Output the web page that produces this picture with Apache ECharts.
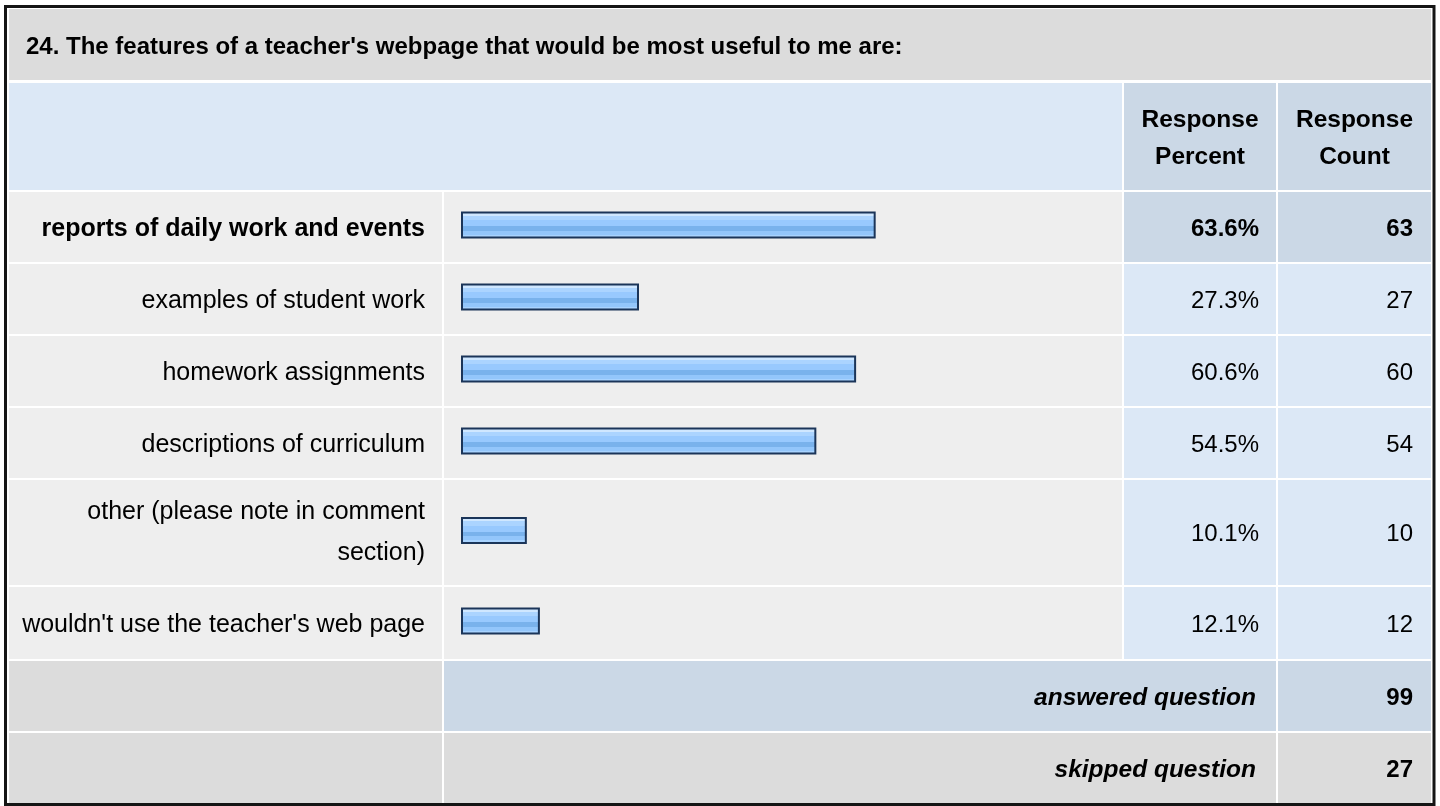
<!DOCTYPE html>
<html>
<head>
<meta charset="utf-8">
<script src="https://cdn.jsdelivr.net/npm/echarts@6/dist/echarts.min.js"></script>
<style>
  html, body { margin: 0; padding: 0; background: #ffffff; }
  #chart { width: 1440px; height: 806px; }
</style>
</head>
<body>
<div id="chart"></div>
<script>
// ---- data ----
const questionTitle = "24. The features of a teacher's webpage that would be most useful to me are:";
const categories = [
  "reports of daily work and events",
  "examples of student work",
  "homework assignments",
  "descriptions of curriculum",
  "other (please note in comment section)",
  "wouldn't use the teacher's web page"
];
const responsePercent = [63.6, 27.3, 60.6, 54.5, 10.1, 12.1];
const responseCount = [63, 27, 60, 54, 10, 12];
const columnHeaders = ["Response\nPercent", "Response\nCount"];
const summaryLabels = ["answered question", "skipped question"];
const summaryValues = [99, 27];
const highlightRow = 0;

// ---- layout ----
const FONT = "Arial, 'Liberation Sans', Helvetica, sans-serif";
const rowTops = [192, 264, 336, 408, 480, 587];
const rowHeights = [70, 70, 70, 70, 105, 72];
const colLabel = [9, 433], colBar = [444, 678], colPct = [1124, 152], colCnt = [1278, 153];
const summaryTops = [661, 733];
const summaryH = 70;
const LABEL_MAX_W = 412;

const C_TITLE = '#dcdcdc', C_HEADLIGHT = '#dce8f6', C_HEADDARK = '#cbd8e6', C_ROW = '#eeeeee';

const barGradient = {
  type: 'linear', x: 0, y: 0, x2: 0, y2: 1,
  colorStops: [
    { offset: 0, color: '#cfe7ff' }, { offset: 0.16, color: '#cfe7ff' },
    { offset: 0.16, color: '#abd4ff' }, { offset: 0.32, color: '#abd4ff' },
    { offset: 0.32, color: '#98c9fe' }, { offset: 0.55, color: '#98c9fe' },
    { offset: 0.55, color: '#79b2ec' }, { offset: 0.72, color: '#79b2ec' },
    { offset: 0.72, color: '#93c6fb' }, { offset: 0.86, color: '#93c6fb' },
    { offset: 0.86, color: '#a8d3ff' }, { offset: 1, color: '#a8d3ff' }
  ]
};

// word-wrap helper (measures with canvas)
const measureCtx = document.createElement('canvas').getContext('2d');
function wrap(str, font, maxW) {
  measureCtx.font = font;
  const words = str.split(' ');
  const lines = [];
  let cur = '';
  words.forEach(w => {
    const test = cur ? cur + ' ' + w : w;
    if (cur && measureCtx.measureText(test).width > maxW) { lines.push(cur); cur = w; }
    else cur = test;
  });
  if (cur) lines.push(cur);
  return lines.join('\n');
}

const grids = [], xAxes = [], yAxes = [], series = [];
categories.forEach((cat, i) => {
  grids.push({ left: 461, width: 652, top: rowTops[i] - 2, height: rowHeights[i], containLabel: false });
  xAxes.push({ type: 'value', gridIndex: i, min: 0, max: 100, show: false });
  yAxes.push({
    type: 'category', gridIndex: i, data: [cat],
    axisLine: { show: false }, axisTick: { show: false }, splitLine: { show: false },
    axisLabel: { show: false }
  });
  series.push({
    type: 'bar', xAxisIndex: i, yAxisIndex: i,
    data: [responsePercent[i]], barWidth: 27, silent: true, z: 5,
    itemStyle: { color: barGradient, borderColor: '#1b3559', borderWidth: 2 }
  });
});

const g = [];
function rect(x, y, w, h, fill) {
  g.push({ type: 'rect', z: 0, silent: true, shape: { x, y, width: w, height: h }, style: { fill } });
}
function text(x, y, str, opts) {
  g.push({
    type: 'text', z: 10, silent: true, x, y,
    style: Object.assign({ text: str, fill: '#000', fontFamily: FONT, fontSize: 24, verticalAlign: 'middle' }, opts)
  });
}

// title row
rect(9, 9, 1422, 71, C_TITLE);
text(26, 47, questionTitle, { fontWeight: 'bold', fontSize: 24, align: 'left' });
// header row
rect(9, 83, 1113, 107, C_HEADLIGHT);
rect(colPct[0], 83, colPct[1], 107, C_HEADDARK);
rect(colCnt[0], 83, colCnt[1], 107, C_HEADDARK);
text(colPct[0] + colPct[1] / 2, 139, columnHeaders[0], { fontWeight: 'bold', fontSize: 24.5, align: 'center', lineHeight: 37 });
text(colCnt[0] + colCnt[1] / 2, 139, columnHeaders[1], { fontWeight: 'bold', fontSize: 24.5, align: 'center', lineHeight: 37 });
// data rows
categories.forEach((cat, i) => {
  const t = rowTops[i], h = rowHeights[i];
  const dark = i === highlightRow;
  rect(colLabel[0], t, colLabel[1], h, C_ROW);
  rect(colBar[0], t, colBar[1], h, C_ROW);
  rect(colPct[0], t, colPct[1], h, dark ? C_HEADDARK : C_HEADLIGHT);
  rect(colCnt[0], t, colCnt[1], h, dark ? C_HEADDARK : C_HEADLIGHT);
  const cy = t + h / 2 + 2;
  const weight = dark ? 'bold' : 'normal';
  const label = wrap(cat, weight + ' 25px ' + FONT, LABEL_MAX_W);
  text(425, label.indexOf('\n') >= 0 ? cy - 2 : cy, label, {
    align: 'right', fontSize: 25, fontWeight: weight, lineHeight: 41
  });
  text(1259, cy, responsePercent[i].toFixed(1) + '%', { align: 'right', fontWeight: weight });
  text(1413, cy, String(responseCount[i]), { align: 'right', fontWeight: weight });
});
// summary rows
summaryLabels.forEach((lab, k) => {
  const t = summaryTops[k];
  const fill = k === 0 ? C_HEADDARK : C_TITLE;
  rect(colLabel[0], t, colLabel[1], summaryH, C_TITLE);
  rect(colBar[0], t, colBar[1] + 2 + colPct[1], summaryH, fill);
  rect(colCnt[0], t, colCnt[1], summaryH, fill);
  text(1256, t + summaryH / 2 + 2, lab, { align: 'right', fontWeight: 'bold', fontStyle: 'italic', fontSize: 24.5 });
  text(1413, t + summaryH / 2 + 2, String(summaryValues[k]), { align: 'right', fontWeight: 'bold' });
});
// outer frame
g.push({ type: 'rect', z: 20, silent: true, shape: { x: 5.5, y: 6.5, width: 1428.5, height: 798 },
  style: { fill: 'none', stroke: '#151515', lineWidth: 3 } });

const chart = echarts.init(document.getElementById('chart'), null, { renderer: 'canvas' });
chart.setOption({
  animation: false,
  backgroundColor: '#ffffff',
  graphic: { elements: g },
  grid: grids,
  xAxis: xAxes,
  yAxis: yAxes,
  series: series
});
</script>
</body>
</html>
